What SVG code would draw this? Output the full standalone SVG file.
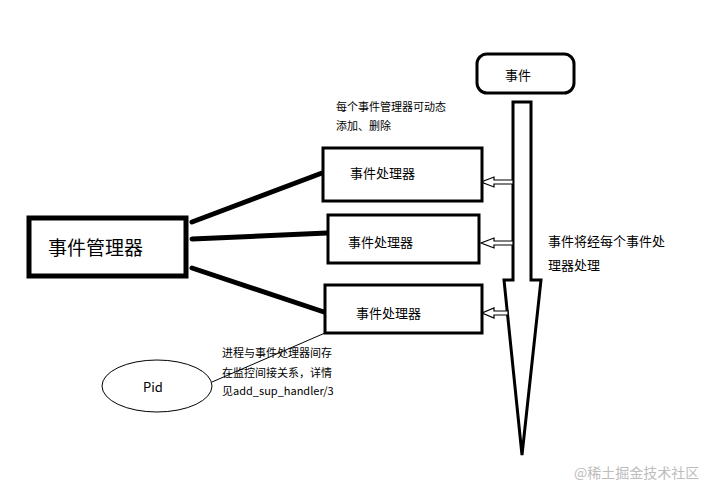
<svg xmlns="http://www.w3.org/2000/svg" width="713" height="486" viewBox="0 0 713 486">
<style>
text{font-family:"Noto Sans CJK SC","Microsoft YaHei",sans-serif;fill:#000}
.box{fill:#fff;stroke:#000;stroke-width:3}
.thick{stroke:#000;stroke-width:5;stroke-linecap:round}
.hollow{fill:#fff;stroke:#000;stroke-width:1.2;stroke-linejoin:miter}
.s11{font-size:11px}
.s13{font-size:13px}
</style>
<rect width="713" height="486" fill="#fff"/>
<g id="connectors">
<line class="thick" x1="192" y1="222" x2="322" y2="173"/>
<line class="thick" x1="192" y1="239" x2="327" y2="233"/>
<line class="thick" x1="192" y1="268" x2="324" y2="312"/>
<line x1="212" y1="382" x2="325" y2="333" stroke="#000" stroke-width="1"/>
</g>
<g id="event-flow">
<polygon points="513,102 531,102 531,280 541,280 522,455 504,280 513,280" fill="#fff" stroke="#000" stroke-width="3" stroke-linejoin="miter"/>
<polygon class="hollow" points="513,180 494,180 494,177 481,182 494,187 494,184 513,184"/>
<polygon class="hollow" points="513,241 494,241 494,238 481,243 494,248 494,245 513,245"/>
<polygon class="hollow" points="508,311 494,311 494,308 482,313 494,318 494,315 508,315"/>
</g>
<g id="event">
<rect x="477" y="54" width="97" height="39" rx="10" class="box"/>
<text class="s13" x="518" y="80" text-anchor="middle">事件</text>
</g>
<g id="manager">
<rect x="29" y="218" width="157" height="58" fill="#fff" stroke="#000" stroke-width="5"/>
<text x="48" y="255" font-size="19">事件管理器</text>
</g>
<g id="handler1">
<rect x="323" y="148" width="159" height="53" class="box"/>
<text class="s13" x="350" y="178">事件处理器</text>
</g>
<g id="handler2">
<rect x="328" y="215" width="151" height="48" class="box"/>
<text class="s13" x="348" y="247">事件处理器</text>
</g>
<g id="handler3">
<rect x="325" y="285" width="157" height="48" class="box"/>
<text class="s13" x="356" y="318">事件处理器</text>
</g>
<g id="pid">
<ellipse cx="157" cy="386" rx="55" ry="26" fill="#fff" stroke="#000" stroke-width="1"/>
<text class="s13" x="153" y="392" text-anchor="middle">Pid</text>
</g>
<g id="notes">
<text class="s11" x="336" y="111">每个事件管理器可动态</text>
<text class="s11" x="336" y="130">添加、删除</text>
<text class="s13" x="548" y="246">事件将经每个事件处</text>
<text class="s13" x="548" y="270">理器处理</text>
<text class="s11" x="222" y="357">进程与事件处理器间存</text>
<text class="s11" x="222" y="377">在监控间接关系，详情</text>
<text class="s11" x="222" y="395">见add_sup_handler/3</text>
</g>
<text x="574" y="478" font-size="14" style="fill:#bdbdbd">@稀土掘金技术社区</text>
</svg>
